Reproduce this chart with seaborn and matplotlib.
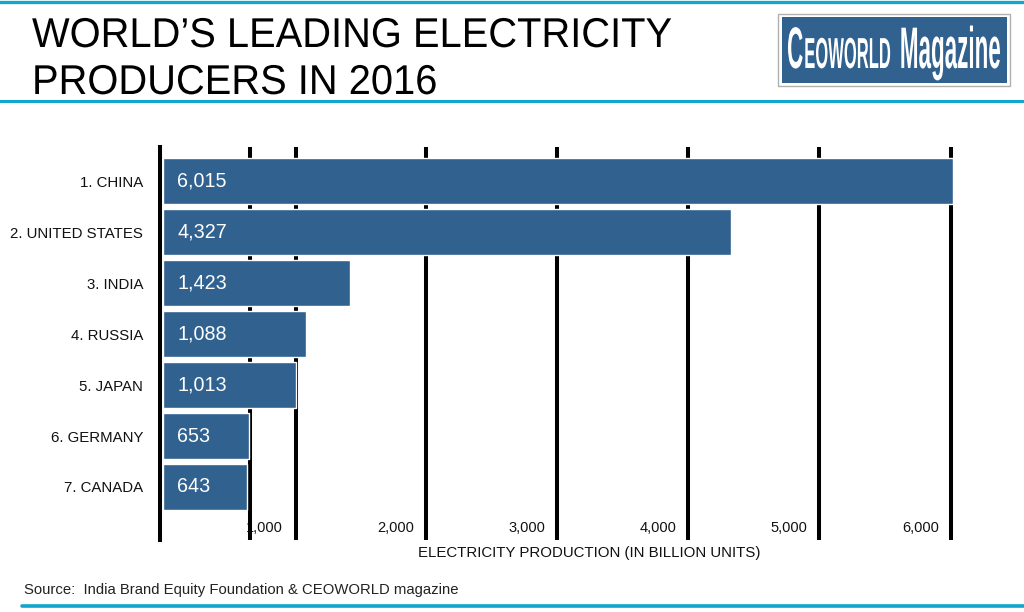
import matplotlib
matplotlib.use("Agg")
import matplotlib.pyplot as plt
import matplotlib.transforms as mtransforms
from matplotlib.lines import Line2D
from matplotlib.patches import Rectangle
from matplotlib.patheffects import AbstractPathEffect
from matplotlib.textpath import TextPath
from matplotlib.font_manager import FontProperties
import pandas as pd
import seaborn as sns

# ==== DATA ====
countries = ["1. CHINA", "2. UNITED STATES", "3. INDIA", "4. RUSSIA",
             "5. JAPAN", "6. GERMANY", "7. CANADA"]
production = [6015, 4327, 1423, 1088, 1013, 653, 643]
grid_values = [660, 1013, 2000, 3000, 4000, 5000, 6000]
tick_values = [1000, 2000, 3000, 4000, 5000, 6000]
tick_labels = ["1,000", "2,000", "3,000", "4,000", "5,000", "6,000"]

# ==== STYLE ====
sns.set_style("white")
plt.rcParams["font.family"] = ["Liberation Sans", "DejaVu Sans"]

BAR = "#30618F"
TEAL = "#10A6CE"
W, H = 1024, 612


def fx(x):
    return x / W


def fy(y):
    return 1 - y / H


class Stretch(AbstractPathEffect):
    """stretch drawn text around a fixed point (display pixels)"""
    def __init__(self, sx, sy, ox, oy):
        super().__init__()
        self.t = mtransforms.Affine2D().translate(-ox, -oy).scale(sx, sy).translate(ox, oy)

    def draw_path(self, renderer, gc, tpath, affine, rgbFace=None):
        renderer.draw_path(gc, tpath, affine + self.t, rgbFace)


fig = plt.figure(figsize=(W / 100, H / 100), dpi=100)
ax = fig.add_axes([fx(160), fy(540), fx(1000) - fx(160), (540 - 147) / H])

df = pd.DataFrame({"country": countries, "production": production})
sns.barplot(data=df, x="production", y="country", color=BAR, saturation=1,
            width=0.9, ax=ax, zorder=1)

ax.set_xlim(-23, 6375)
ax.set_ylim(len(countries) - 1 + 1.04, -0.67)

# vertical black rules (drawn behind the bars)
for v in grid_values:
    ax.axvline(v, color="black", lw=2.9, zorder=0.5)

for s in ["top", "right", "bottom"]:
    ax.spines[s].set_visible(False)
ax.spines["left"].set_linewidth(2.9)
ax.spines["left"].set_color("black")

ax.set_xticks([])
ax.set_xlabel("")
ax.set_ylabel("")
ax.tick_params(axis="y", length=0, pad=12, labelsize=10.8, labelcolor="#111111")

# x tick labels sit just left of each rule
blend = mtransforms.blended_transform_factory(ax.transData, ax.transAxes)
for v, lab in zip(tick_values, tick_labels):
    ax.text(v - 230, 0.031, lab, transform=blend, ha="center", va="center",
            fontsize=10.5, color="#111111", zorder=0.2)

# value labels inside the bars
for i, v in enumerate(production):
    ax.text(110, i, f"{v:,}", ha="left", va="center", color="white",
            fontsize=14.2, zorder=3)

# ==== TEXT ====
# title font is a little taller than it is wide
for line, base in [("WORLD\u2019S LEADING ELECTRICITY", 47), ("PRODUCERS IN 2016", 94)]:
    fig.text(fx(32), fy(base), line, fontsize=28.7, va="baseline", ha="left",
             color="black", path_effects=[Stretch(1.0, 1.045, 32, H - base)])
fig.text(fx(589), fy(553), "ELECTRICITY PRODUCTION (IN BILLION UNITS)",
         fontsize=10.8, ha="center", va="center", color="#111111")
fig.text(fx(24), fy(590), "Source:  India Brand Equity Foundation & CEOWORLD magazine",
         fontsize=10.7, ha="left", va="center", color="#222222")

# teal rules
fig.add_artist(Line2D([0, 1], [fy(1.5), fy(1.5)], color=TEAL, lw=2.4,
                      transform=fig.transFigure))
fig.add_artist(Line2D([0, 1], [fy(100.5), fy(100.5)], color=TEAL, lw=2.2,
                      transform=fig.transFigure))
fig.add_artist(Line2D([fx(22), 1], [fy(606), fy(606)], color=TEAL, lw=2.6,
                      transform=fig.transFigure))

# ==== LOGO ====
fig.add_artist(Rectangle((fx(778), fy(86)), fx(1010) - fx(778), (86 - 14) / H,
                         transform=fig.transFigure, facecolor="white",
                         edgecolor="#b0b0b0", lw=1))
fig.add_artist(Rectangle((fx(782), fy(83)), fx(1007) - fx(782), (83 - 17) / H,
                         transform=fig.transFigure, facecolor=BAR,
                         edgecolor="none"))

# condensed logo type: lay out at natural width, then stretch upward
fp = FontProperties(family="Liberation Sans", weight="bold")
logo_parts = [("C", 1.0, 12), ("EOWORLD", 0.74, 50), ("Magazine", 1.0, 0)]
cursor = 0
placed = []
for txt, rel, gap in logo_parts:
    ext = TextPath((0, 0), txt, size=rel * 100, prop=fp).get_extents()
    placed.append((cursor - ext.x0, txt, rel))
    cursor += ext.width + gap
k = (1000 - 788) / cursor          # px per unit at 100px font
base_pt = 100 * k * 72 / 100       # font size that fits the width
logo_sy = 42.2 / base_pt
for off, txt, rel in placed:
    fig.text(fx(788 + off * k), fy(68), txt, fontsize=rel * base_pt,
             fontweight="bold", color="white", ha="left", va="baseline",
             path_effects=[Stretch(1.0, logo_sy, 788, H - 68)])

fig.savefig("out.png", dpi=100)
